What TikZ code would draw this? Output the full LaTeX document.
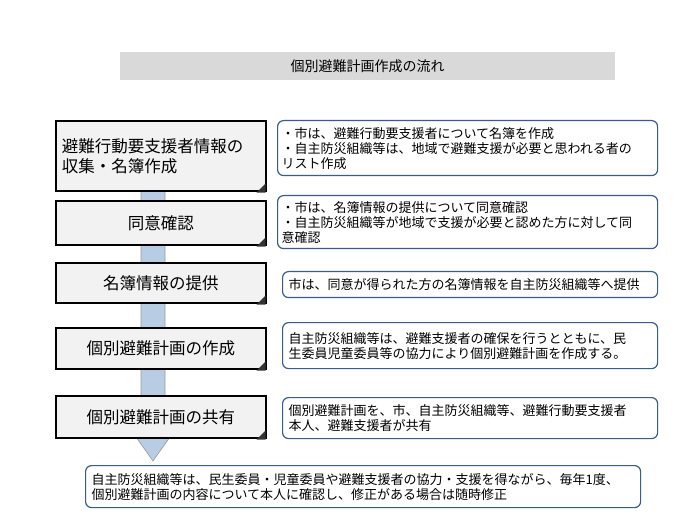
\documentclass[tikz,border=0pt]{standalone}
\usepackage{fontspec}
\setmainfont{Noto Sans CJK JP}
\definecolor{barblue}{HTML}{B8CCE4}
\definecolor{noteblue}{HTML}{385D8A}
\begin{document}
\begin{tikzpicture}[x=1pt,y=-1pt,
  stepbox/.style={draw=black,line width=1.6pt,fill=gray!10,minimum width=210pt,anchor=north west,inner sep=0pt,font=\fontsize{16.5}{20}\selectfont,align=center},
  note/.style={draw=noteblue,line width=1.2pt,rounded corners=6pt,fill=white,anchor=north west,inner sep=0pt,font=\fontsize{13}{15}\selectfont,align=left,text width=380pt},
  bar/.style={draw=gray!80,fill=barblue,line width=0.6pt}]
\useasboundingbox (0,0) rectangle (690,518);
\node[fill=gray!30,minimum width=495pt,minimum height=28pt,anchor=north west,font=\fontsize{14}{16}\selectfont] (title) at (120,52) {個別避難計画作成の流れ};
\draw[bar] (141,185) -- (165,185) -- (165,437) -- (170,437) -- (153,461) -- (136,437) -- (141,437) -- cycle;
\coordinate (tip) at (153,461);
\foreach \n/\y/\h/\t in {s1/120/70/{\hspace*{6pt}避難行動要支援者情報の\hfill\null\\\hspace*{6pt}収集・名簿作成\hfill\null},s2/200/44/同意確認,s3/262/40/名簿情報の提供,s4/327/41/個別避難計画の作成,s5/395/42/個別避難計画の共有}{
  \node[stepbox,minimum height=\h pt,text width=210pt] (\n) at (55,\y) {\t};
  \fill[black!80] ([xshift=-1pt,yshift=-1pt]\n.south east) -- ++(-9,0) -- ++(9,-9) -- cycle;
}
\node[note,minimum height=55pt] (n1) at (277,120) {\hspace*{4pt}・市は、避難行動要支援者について名簿を作成\\\hspace*{4pt}・自主防災組織等は、地域で避難支援が必要と思われる者の\\\hspace*{4pt}リスト作成};
\node[note,minimum height=53pt] (n2) at (277,195) {\hspace*{4pt}・市は、名簿情報の提供について同意確認\\\hspace*{4pt}・自主防災組織等が地域で支援が必要と認めた方に対して同\\\hspace*{4pt}意確認};
\node[note,minimum height=26pt,text width=375pt] (n3) at (282,271) {\hspace*{6pt}市は、同意が得られた方の名簿情報を自主防災組織等へ提供};
\node[note,minimum height=46pt,text width=375pt] (n4) at (282,322) {\hspace*{6pt}自主防災組織等は、避難支援者の確保を行うとともに、民\\\hspace*{6pt}生委員児童委員等の協力により個別避難計画を作成する。};
\node[note,minimum height=41pt,text width=375pt] (n5) at (282,397) {\hspace*{6pt}個別避難計画を、市、自主防災組織等、避難行動要支援者\\\hspace*{6pt}本人、避難支援者が共有};
\node[note,minimum height=42pt,text width=555pt] (n6) at (85,465) {\hspace*{6pt}自主防災組織等は、民生委員・児童委員や避難支援者の協力・支援を得ながら、毎年1度、\\\hspace*{6pt}個別避難計画の内容について本人に確認し、修正がある場合は随時修正};
\end{tikzpicture}
\end{document}
